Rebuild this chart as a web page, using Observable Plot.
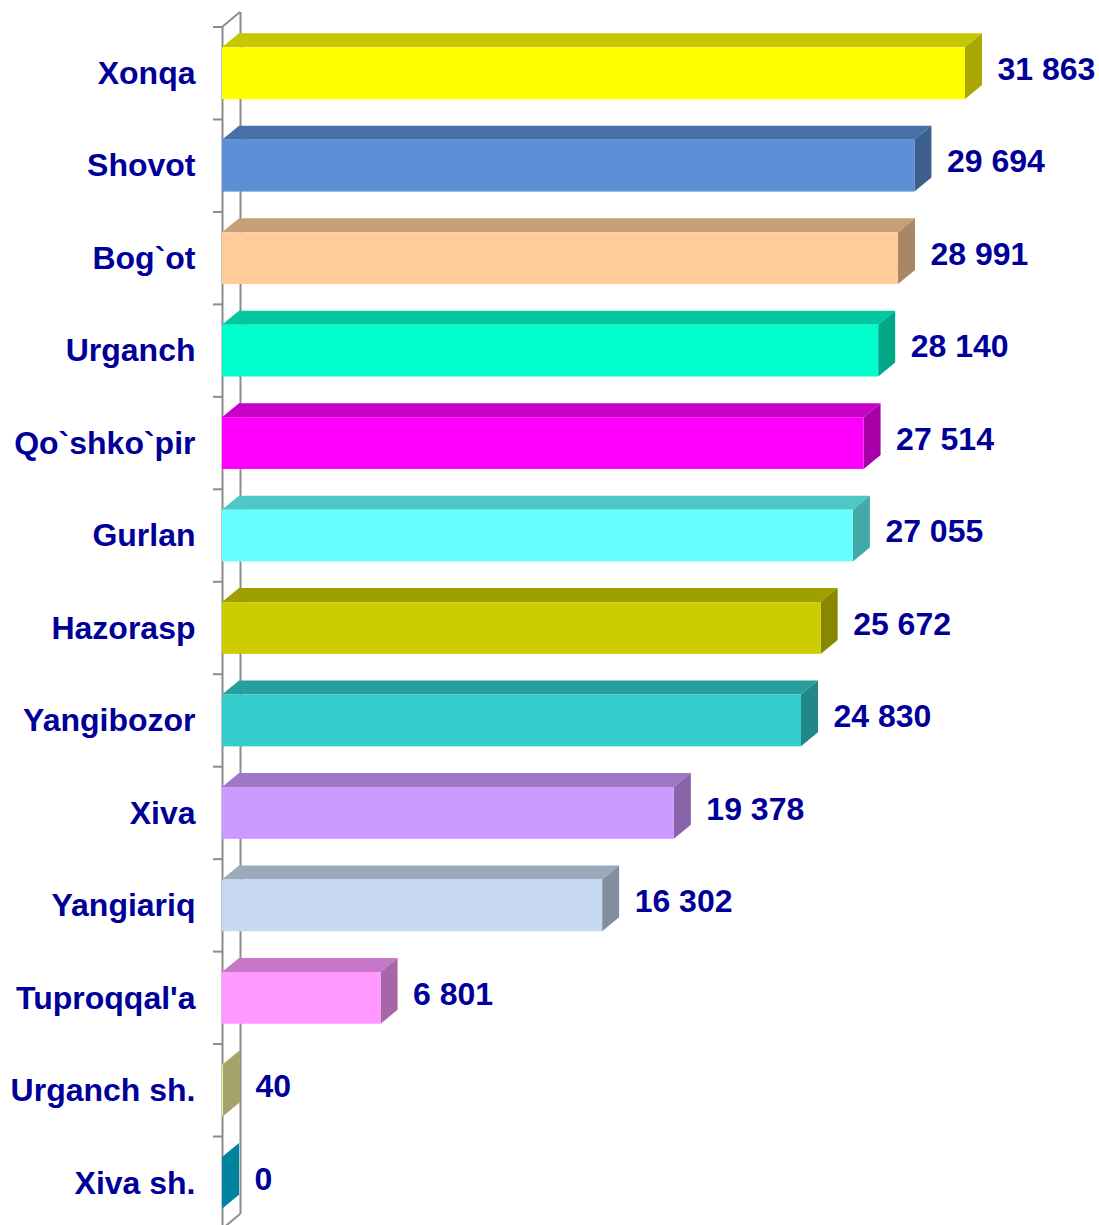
<!DOCTYPE html>
<html><head><meta charset="utf-8">
<script src="https://cdn.jsdelivr.net/npm/d3@7"></script>
<script src="https://cdn.jsdelivr.net/npm/@observablehq/plot@0.6"></script>
<style>html,body{margin:0;padding:0;background:#fff;overflow:hidden}</style>
</head><body><div id="chart"></div>
<script>
const categories = ["Xonqa","Shovot","Bog`ot","Urganch","Qo`shko`pir","Gurlan","Hazorasp","Yangibozor","Xiva","Yangiariq","Tuproqqal'a","Urganch sh.","Xiva sh."];
const values = [31863,29694,28991,28140,27514,27055,25672,24830,19378,16302,6801,40,0];
const frontColors = ["#FFFF00","#5B8FD6","#FFCC99","#00FFCC","#FF00FF","#66FFFF","#CCCC00","#33CCCC","#CC99FF","#C6D9F1","#FF99FF","#F7F7A1","#00C8F0"];

(function () {
function shade(c, k) {
  const r = d3.rgb(c);
  return d3.rgb(r.r * k, r.g * k, r.b * k).formatHex();
}
const data = categories.map((cat, i) => ({
  cat, value: values[i],
  front: frontColors[i], topC: shade(frontColors[i], 0.78), sideC: shade(frontColors[i], 0.66)
}));

const DX = 17, DY = 14;      // bar depth
const AX = 18, AY = 15;      // axis wall depth
const textColor = "#000099";
const font = "'Liberation Sans', Arial, Helvetica, sans-serif";
const fmt = v => d3.format(",")(v).replace(/,/g, " ");
const axisGray = "#8c8c8c";

const chart = Plot.plot({
  width: 1099, height: 1229,
  marginLeft: 222, marginRight: 134, marginTop: 27, marginBottom: 0,
  x: {domain: [0, d3.max(values)], axis: null},
  y: {domain: categories, paddingInner: 0.44, paddingOuter: 0.22, round: false, axis: null},
  color: {type: "identity"},
  style: {fontFamily: font, overflow: "visible", background: "#fff"},
  marks: [
    Plot.ruleX([0], {dx: AX, dy: -AY, stroke: axisGray, strokeWidth: 2}),
    Plot.ruleX([0], {stroke: axisGray, strokeWidth: 2}),
    Plot.barX(data, {x1: 0, x2: "value", y: "cat", fill: "topC"}),
    Plot.barX(data, {x1: 0, x2: "value", y: "cat", fill: "sideC"}),
    Plot.barX(data, {x1: 0, x2: "value", y: "cat", fill: "front"}),
    Plot.text(data, {x: "value", y: "cat", text: d => fmt(d.value), dx: 32, dy: -4, textAnchor: "start",
      fill: textColor, fontSize: 32, fontWeight: "bold"}),
    Plot.text(categories, {x: 0, y: d => d, text: d => d, dx: -27, textAnchor: "end",
      fill: textColor, fontSize: 32, fontWeight: "bold"})
  ]
});

const svg = d3.select(chart);
const barGroups = svg.selectAll('g[aria-label="bar"]').nodes();
d3.select(barGroups[0]).selectAll("rect").each(function() {
  const r = d3.select(this);
  const y0 = +r.attr("y");
  const k = -DX / DY;
  r.attr("y", y0 - DY).attr("height", DY)
   .attr("transform", `matrix(1,0,${k},1,${-k * y0},0)`);
});
d3.select(barGroups[1]).selectAll("rect").each(function() {
  const r = d3.select(this);
  const x0 = +r.attr("x") + +r.attr("width");
  const m = -DY / DX;
  r.attr("x", x0).attr("width", DX)
   .attr("transform", `matrix(1,${m},0,1,0,${-m * x0})`);
});

const xs = chart.scale("x"), ys = chart.scale("y");
const xZero = xs.apply(0);
const yr = ys.range;
const yTop = Math.min(...yr), yBot = Math.max(...yr);
const g = svg.append("g").attr("stroke", axisGray).attr("stroke-width", 2).attr("fill", "none");
g.append("line").attr("x1", xZero).attr("y1", yTop).attr("x2", xZero + AX).attr("y2", yTop - AY);
g.append("line").attr("x1", xZero).attr("y1", yBot).attr("x2", xZero + AX).attr("y2", yBot - AY);
const step = (yBot - yTop) / categories.length;
for (let i = 0; i <= categories.length; i++) {
  const yy = yTop + i * step;
  g.append("line").attr("x1", xZero - 9).attr("y1", yy).attr("x2", xZero).attr("y2", yy);
}
document.getElementById("chart").appendChild(chart);
})();
</script>
</body></html>
